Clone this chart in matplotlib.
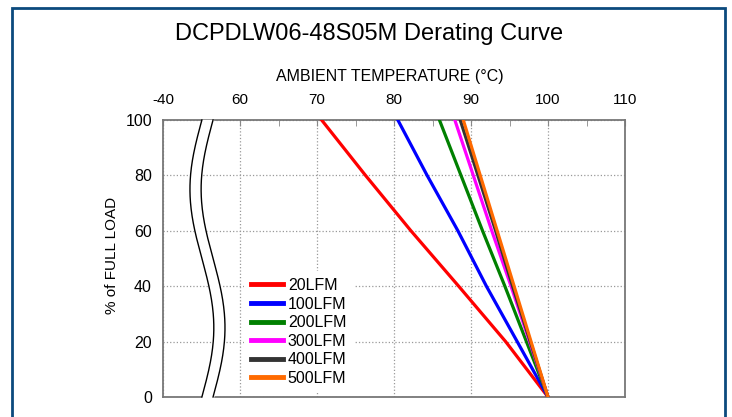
import numpy as np
import matplotlib
matplotlib.use("Agg")
import matplotlib.pyplot as plt
from matplotlib.patches import Rectangle

plt.rcParams['font.family'] = ['Liberation Sans', 'DejaVu Sans']

# Load (% of full load) and ambient temperature
load = [100, 80, 60, 40, 20, 0]
t_20lfm = [70.6, 76.3, 82.2, 88.4, 94.5, 100.0]
t_100lfm = [80.5, 84.3, 88.3, 92.0, 96.0, 100.0]
t_200lfm = [85.9, 88.7, 91.5, 94.4, 97.2, 100.0]
t_300lfm = [87.9, 90.3, 92.7, 95.2, 97.6, 100.0]
t_400lfm = [88.6, 90.9, 93.2, 95.4, 97.7, 100.0]
t_500lfm = [89.0, 91.2, 93.4, 95.6, 97.8, 100.0]

series = [("20LFM", t_20lfm, "#ff0000"),
          ("100LFM", t_100lfm, "#0000ff"),
          ("200LFM", t_200lfm, "#008000"),
          ("300LFM", t_300lfm, "#ff00ff"),
          ("400LFM", t_400lfm, "#333333"),
          ("500LFM", t_500lfm, "#ff6a00")]

xticks = [50, 60, 70, 80, 90, 100, 110]
xticklabels = ["-40", "60", "70", "80", "90", "100", "110"]
yticks = [0, 20, 40, 60, 80, 100]

fig = plt.figure(figsize=(7.32, 4.17), dpi=100)

# blue frame round the picture
fig.patches.append(Rectangle((12/732, -0.1), 713/732, 1.1 - 8/417,
                             transform=fig.transFigure, fill=False,
                             edgecolor="#0b4a7d", linewidth=2.0))

ax = fig.add_axes([163/732, 1 - 397/417, 462/732, 277/417])

for name, temps, col in series:
    ax.plot(temps, load, color=col, lw=2.3, label=name, zorder=4)

ax.set_xlim(50, 110)
ax.set_ylim(0, 100)
ax.set_xticks(xticks)
ax.set_xticklabels(xticklabels)
ax.set_xticks(np.arange(55, 110, 10), minor=True)
ax.set_yticks(yticks)
ax.tick_params(axis="x", which="both", top=True, bottom=False, labeltop=True,
               labelbottom=False, direction="in", length=4, color="#888888",
               labelsize=11, pad=9)
ax.tick_params(axis="y", direction="in", length=0, labelsize=11.5, pad=8)
ax.grid(True, linestyle=":", color="#999999", lw=0.9)
for s in ax.spines.values():
    s.set_color("#777777")
    s.set_linewidth(1.3)

# axis break: two wavy lines with white between them
yy = np.linspace(0, 100, 200)
tt = (100 - yy) / 100.0
xl = 55.05 - 1.55 * np.sin(2 * np.pi * tt)
xr = 56.5 - 1.55 * np.sin(2 * np.pi * tt)
ax.fill_betweenx(yy, xl, xr, color="white", zorder=3, clip_on=False)
ax.plot(xl, yy, color="black", lw=1.0, zorder=3.5, clip_on=False)
ax.plot(xr, yy, color="black", lw=1.0, zorder=3.5, clip_on=False)

leg = ax.legend(loc="lower left", bbox_to_anchor=(0.175, 0.015), fontsize=11.5,
                frameon=True, facecolor="white", edgecolor="none", framealpha=1,
                handlelength=2.0, handletextpad=0.3, labelspacing=0.22,
                borderpad=0.45, borderaxespad=0)
for line in leg.get_lines():
    line.set_linewidth(3.5)
leg.set_zorder(5)

fig.text(0.504, 1 - 34/417, "DCPDLW06-48S05M Derating Curve", ha="center",
         va="center", fontsize=17)
fig.text(390/732, 1 - 77/417, "AMBIENT TEMPERATURE (°C)", ha="center",
         va="center", fontsize=11.5)
fig.text(112/732, 1 - 255/417, "% of FULL LOAD", ha="center", va="center",
         rotation=90, fontsize=11)

fig.savefig("out.png", dpi=100)
